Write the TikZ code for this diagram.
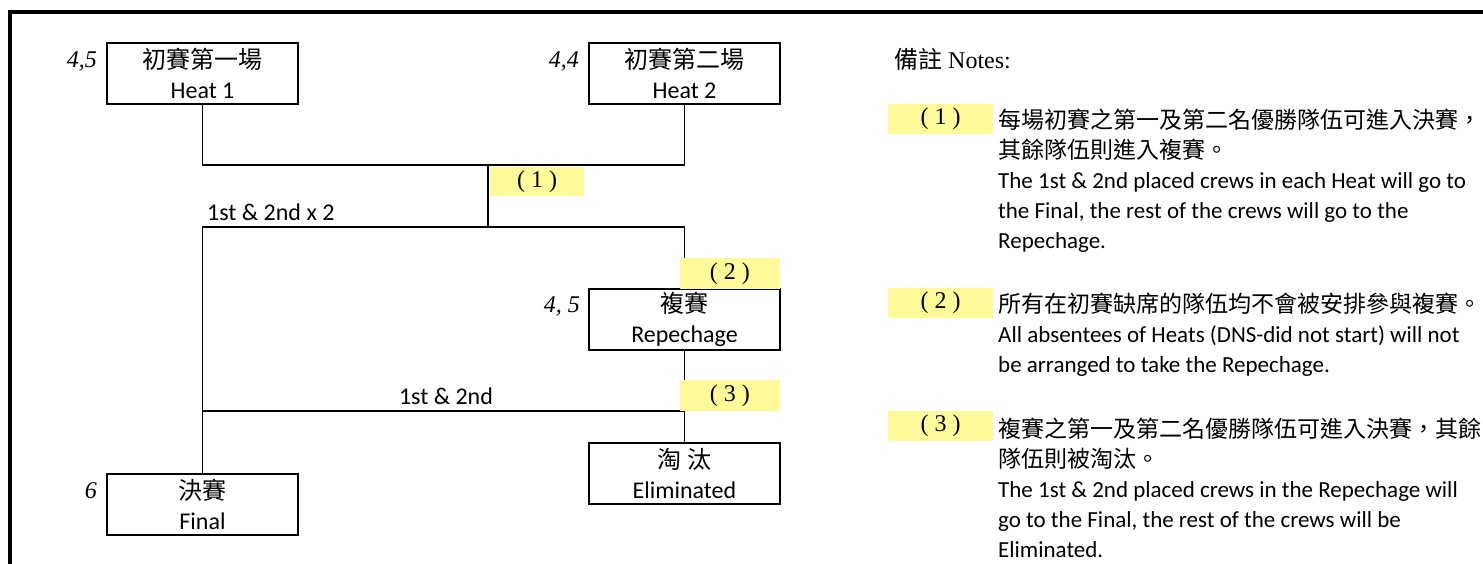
\documentclass[tikz,border=0pt]{standalone}
\usepackage{fontspec}
\setmainfont{Liberation Serif}
\newfontfamily\calibri{Carlito}
\newfontfamily\cjk{Noto Sans CJK TC}
\usepackage{tikz}
\usetikzlibrary{positioning,calc}
\tikzstyle{link}=[draw=black,line width=1.6pt]
\tikzstyle{block}=[draw=black,line width=1.6pt]
\def\stagewidth{191pt}
\def\stageheight{61pt}
\tikzstyle{stage}=[style=block, fill=white,
    inner sep=0pt,outer sep=0pt, font=\calibri\fontsize{24}{30}\selectfont,
    text centered, align=center,
    minimum width=\stagewidth, minimum height=\stageheight]
\tikzstyle{lanes}=[inner sep=0pt, font=\itshape\fontsize{24}{30}\selectfont]
\tikzstyle{flag}=[fill=notefill, inner sep=0pt, font=\fontsize{24}{30}\selectfont,
    minimum height=30pt]
\tikzstyle{remark}=[inner sep=0pt, anchor=base west, align=left,
    font=\calibri\fontsize{23}{30}\selectfont]
\tikzstyle{caption}=[inner sep=0pt, font=\calibri\fontsize{24}{30}\selectfont]
\colorlet{notefill}{yellow!40!white}

\begin{document}
\begin{tikzpicture}[x=1pt, y=-1pt]
    \useasboundingbox (0,0) rectangle (1483,563);
    \draw[line width=4pt] (10,565) -- (10,12) -- (1485,12);
    % rounds
    \node[stage] (heat1) at (202.5,73.5) {{\cjk 初賽第一場}\\Heat 1};
    \node[stage] (heat2) at (684.5,73.5) {{\cjk 初賽第二場}\\Heat 2};
    \node[stage] (rep) at (684.5,319.5) {{\cjk 複賽}\\Repechage};
    \node[stage] (elim) at (684.5,473.5) {{\cjk 淘\ 汰}\\Eliminated};
    \node[stage] (final) at (202.5,504.5) {{\cjk 決賽}\\Final};
    \node[lanes, anchor=base east] (l1) at ($(heat1.north west)+(-10,24)$) {4,5};
    \node[lanes, anchor=base east] (l2) at ($(heat2.north west)+(-10,24)$) {4,4};
    \node[lanes, anchor=base east] (l3) at ($(rep.north west)+(-9,23)$) {4, 5};
    \node[lanes, anchor=base east] (l4) at ($(final.north west)+(-10,24)$) {6};
    % connectors
    \coordinate (j1) at (488,165);
    \coordinate (j2) at (488,227);
    \coordinate (j3) at (684.5,411);
    \draw[link] (heat1.south) |- (j1) -| (heat2.south);
    \draw[link] (j1) -- (j2);
    \draw[link] (rep.north) |- (j2) -| (final.north);
    \draw[link] (rep.south) -- (elim.north);
    \draw[link] (j3) -- (final.north |- j3);
    \node[caption, anchor=base west] (c1) at (207,220) {1st \& 2nd x 2};
    \node[caption, anchor=base] (c2) at (446,404) {1st \& 2nd};
    \node[flag, minimum width=94pt, minimum height=29pt, anchor=north west] (f1) at ($(j1)+(2,2)$) {( 1 )};
    \node[flag, minimum width=100pt, minimum height=31pt, anchor=south east] (f2) at (rep.north east) {( 2 )};
    \node[flag, minimum width=100pt, minimum height=31pt, anchor=south east] (f3) at (rep.east |- j3) {( 3 )};
    % notes (base = last line)
    \node[anchor=base west, inner sep=0pt, font=\fontsize{24}{30}\selectfont] (notes) at (894,68) {{\cjk 備註} Notes:};
    \node[flag, minimum width=105pt, anchor=north west] (n1) at (888,104) {( 1 )};
    \node[flag, minimum width=105pt, anchor=north west] (n2) at (888,288) {( 2 )};
    \node[flag, minimum width=105pt, anchor=north west] (n3) at (888,411) {( 3 )};
    \node[remark] (r1) at (998,248) {{\cjk 每場初賽之第一及第二名優勝隊伍可進入決賽，}\\{\cjk 其餘隊伍則進入複賽。}\\The 1st \& 2nd placed crews in each Heat will go to\\the Final, the rest of the crews will go to the\\Repechage.};
    \node[remark] (r2) at (998,372) {{\cjk 所有在初賽缺席的隊伍均不會被安排參與複賽。}\\All absentees of Heats (DNS-did not start) will not\\be arranged to take the Repechage.};
    \node[remark] (r3) at (998,557) {{\cjk 複賽之第一及第二名優勝隊伍可進入決賽，其餘}\\{\cjk 隊伍則被淘汰。}\\The 1st \& 2nd placed crews in the Repechage will\\go to the Final, the rest of the crews will be\\Eliminated.};
\end{tikzpicture}
\end{document}
